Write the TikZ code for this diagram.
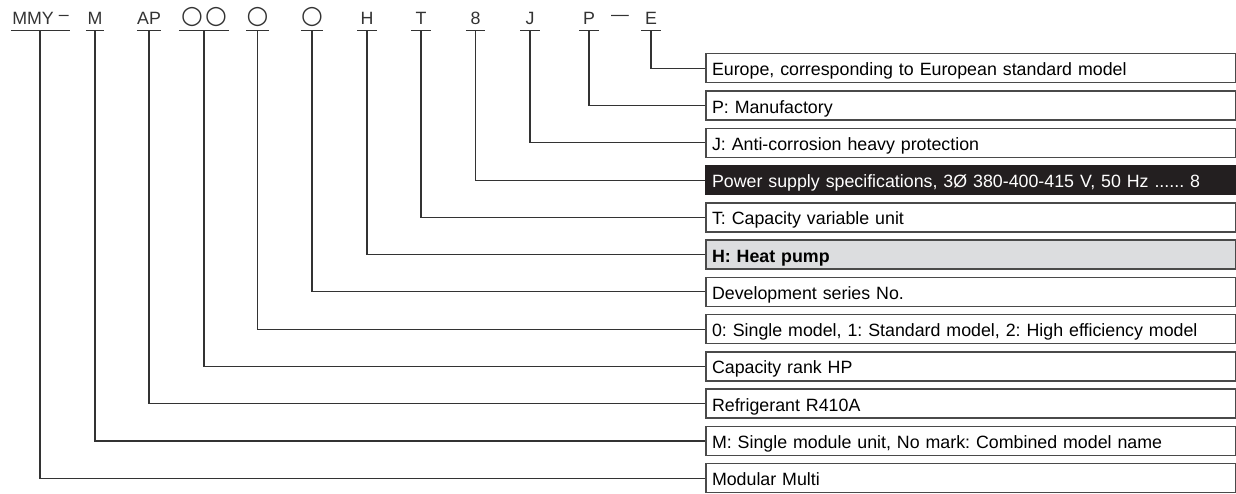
\documentclass[tikz,border=0pt]{standalone}
\usepackage{fontspec}
\setmainfont{Liberation Sans}
\newfontfamily\symfont{DejaVu Sans}
\definecolor{linec}{HTML}{333333}
\definecolor{boxc}{HTML}{4A4A4A}
\definecolor{darkfill}{HTML}{231F20}
\definecolor{greyfill}{HTML}{DCDDDF}
\newcommand\hdr{\fontsize{17.8pt}{20pt}\selectfont}
\newcommand\circfont{\symfont\fontsize{25pt}{28pt}\selectfont}
\frenchspacing
\begin{document}
\frenchspacing
\begin{tikzpicture}[x=1pt,y=-1pt,
  conn/.style={draw=linec, line width=1.1pt},
  uline/.style={draw=linec, line width=1.1pt},
  code/.style={anchor=south, inner xsep=0pt, inner ysep=5.5pt, text height=13pt, text depth=0pt, minimum width=#1, font=\hdr, text=linec},
  desc/.style={anchor=north west, draw=boxc, line width=1.5pt, minimum width=529.5pt, minimum height=29pt, inner xsep=6pt, inner ysep=0pt, text width=517pt, align=left, text height=16pt, text depth=1pt, font=\hdr},
]
\useasboundingbox (0,0) rectangle (1236,494);
% header codes
\node[code=59pt]  (cMMY) at (40.5,30.5) {MMY\hspace{5pt}\raisebox{4pt}{–}};
\node[code=18pt]  (cM)   at (95,30.5)   {M};
\node[code=18pt]  (cAP)  at (149,30.5)  {AP};
\node[code=50pt]  (cOO)  at (204,30.5)  {\raisebox{1pt}{\circfont ○\kern2pt○}};
\node[code=19pt]  (cO1)  at (257.5,30.5){\raisebox{1pt}{\circfont ○}};
\node[code=19pt]  (cO2)  at (312,30.5)  {\raisebox{1pt}{\circfont ○}};
\node[code=19pt]  (cH)   at (367,30.5)  {H};
\node[code=19pt]  (cT)   at (421,30.5)  {T};
\node[code=19pt]  (c8)   at (475.5,30.5){8};
\node[code=19pt]  (cJ)   at (530,30.5)  {J};
\node[code=19pt]  (cP)   at (589,30.5)  {P};
\node[code=1pt]   (dash) at (620,30.5)  {\raisebox{4pt}{—}};
\node[code=19pt]  (cE)   at (651,30.5)  {E};
\foreach \n in {cMMY,cM,cAP,cOO,cO1,cO2,cH,cT,c8,cJ,cP,cE}
  \draw[uline] (\n.south west) -- (\n.south east);
% description boxes
\node[desc] (bE)   at (705,53.00)  {Europe, corresponding to European standard model};
\node[desc] (bP)   at (705,90.27)  {P: Manufactory};
\node[desc] (bJ)   at (705,127.54) {J: Anti-corrosion heavy protection};
\node[desc, fill=darkfill, draw=darkfill, text=white] (b8) at (705,164.81) {Power supply specifications, 3Ø 380-400-415 V, 50 Hz ...... 8};
\node[desc] (bT)   at (705,202.08) {T: Capacity variable unit};
\node[desc, fill=greyfill, font=\hdr\bfseries] (bH) at (705,239.35) {H: Heat pump};
\node[desc] (bO2)  at (705,276.62) {Development series No.};
\node[desc] (bO1)  at (705,313.89) {0: Single model, 1: Standard model, 2: High efficiency model};
\node[desc] (bOO)  at (705,351.16) {Capacity rank HP};
\node[desc] (bAP)  at (705,388.43) {Refrigerant R410A};
\node[desc] (bM)   at (705,425.70) {M: Single module unit, No mark: Combined model name};
\node[desc] (bMMY) at (705,462.97) {Modular Multi};
% connectors
\foreach \a/\b in {cE/bE,cP/bP,cJ/bJ,c8/b8,cT/bT,cH/bH,cO2/bO2,cO1/bO1,cOO/bOO,cAP/bAP,cM/bM}
  \draw[conn] (\a.south) |- (\b.west);
\draw[conn] ([xshift=-0.5pt]cMMY.south) |- (bMMY.west);
\end{tikzpicture}
\end{document}
